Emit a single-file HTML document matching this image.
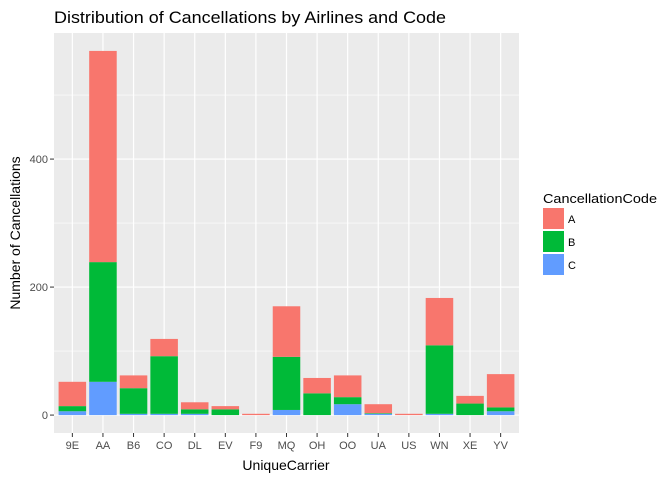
<!DOCTYPE html>
<html><head><meta charset="utf-8"><style>
body{margin:0;background:#fff;}
svg{display:block;font-family:"Liberation Sans",Arial,sans-serif;}
</style></head><body>
<svg id="chart" width="672" height="480">
<text x="54" y="23" font-size="17" textLength="392" lengthAdjust="spacingAndGlyphs" fill="#000">Distribution of Cancellations by Airlines and Code</text>
<rect x="54" y="33" width="465" height="400" fill="#ebebeb"/>
<g id="grid"></g><g id="bars"></g><g id="axes"></g>
<text x="286" y="470" font-size="14" text-anchor="middle" fill="#000">UniqueCarrier</text>
<text transform="translate(20,233) rotate(-90)" font-size="14" text-anchor="middle" fill="#000">Number of Cancellations</text>
<g>
<text x="543" y="203" font-size="13" textLength="114" lengthAdjust="spacingAndGlyphs" fill="#000">CancellationCode</text>
<rect x="543" y="208" width="21" height="21" fill="#F8766D"/>
<text x="568" y="223" font-size="11">A</text>
<rect x="543" y="231" width="21" height="21" fill="#00BA38"/>
<text x="568" y="246" font-size="11">B</text>
<rect x="543" y="254" width="21" height="21" fill="#619CFF"/>
<text x="568" y="269" font-size="11">C</text>
</g>
</svg>
<script>
const categories=["9E","AA","B6","CO","DL","EV","F9","MQ","OH","OO","UA","US","WN","XE","YV"];
const seriesA=[38,330,20,27,11,5,2,79,24,34,14,2,74,12,52];
const seriesB=[8,187,40,90,7,9,0,83,34,11,1,0,107,18,6];
const seriesC=[6,52,2,2,2,0,0,8,0,17,2,0,2,0,6];
const yTicks=[0,200,400];
const yMinor=[100,300,500];
const NS="http://www.w3.org/2000/svg";
const L=54,R=519,T=33,B=433,yMin=-28,yMax=597;
const step=(R-L)/(categories.length-1+1.2);
function x(i){return L+step*(0.6+i);}
function y(v){return B-(v-yMin)/(yMax-yMin)*(B-T);}
function mk(tag,at,parent){const e=document.createElementNS(NS,tag);for(const k in at)e.setAttribute(k,at[k]);parent.appendChild(e);return e;}
const grid=document.getElementById('grid'),bars=document.getElementById('bars'),axes=document.getElementById('axes');
yMinor.forEach(v=>{const l=mk('line',{x1:L,x2:R,y1:y(v),y2:y(v),stroke:'#fff','stroke-width':0.6},grid);

});
yTicks.forEach(v=>{const l=mk('line',{x1:L,x2:R,y1:y(v),y2:y(v),stroke:'#fff','stroke-width':1.2},grid);


const t=mk('line',{x1:L-4,x2:L,y1:y(v),y2:y(v),stroke:'#333','stroke-width':1},axes);


const tx=mk('text',{x:L-6,y:y(v)+4,'text-anchor':'end','font-size':11,fill:'#4d4d4d'},axes);tx.textContent=v;

});
const w=step*0.9;
categories.forEach((c,i)=>{
const g=mk('line',{x1:x(i),x2:x(i),y1:T,y2:B,stroke:'#fff','stroke-width':1.2},grid);


let base=0;
[[seriesC[i],'#619CFF','c'],[seriesB[i],'#00BA38','b'],[seriesA[i],'#F8766D','a']].forEach(([v,col,k])=>{
if(v<=0)return;
const r=mk('rect',{x:x(i)-w/2,y:y(base+v),width:w,height:y(base)-y(base+v),fill:col},bars);


base+=v;});
const t=mk('line',{x1:x(i),x2:x(i),y1:B,y2:B+4,stroke:'#333','stroke-width':1},axes);


const tx=mk('text',{x:x(i),y:B+16,'text-anchor':'middle','font-size':11,fill:'#4d4d4d'},axes);tx.textContent=c;


});
</script>
</body></html>
